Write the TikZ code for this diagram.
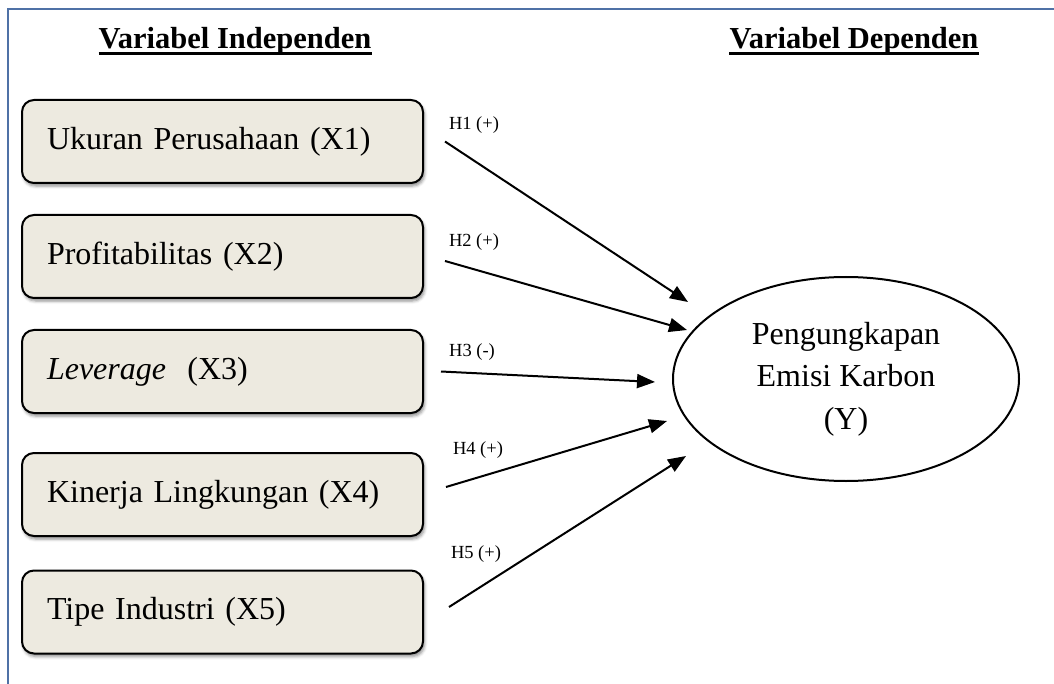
\documentclass[tikz,border=0pt]{standalone}
\usepackage{fontspec}
\setmainfont{Liberation Serif}
\usetikzlibrary{arrows.meta, shapes.geometric, shadows.blur}
\definecolor{boxfill}{RGB}{237,234,224}
\definecolor{framecol}{RGB}{79,113,166}
\tikzstyle{varbox}=[draw, fill=boxfill, rounded corners=12pt, line width=2pt, minimum width=401pt, minimum height=83pt, inner xsep=25pt, text width=351pt, align=left, font=\fontsize{32}{38}\selectfont, blur shadow={shadow xshift=1.5pt, shadow yshift=-3pt, shadow blur radius=3pt, shadow opacity=45}]
\tikzstyle{title}=[inner sep=0pt, font=\fontsize{30.5}{36}\selectfont\bfseries]
\tikzstyle{hyp}=[line width=2pt, -{Triangle[length=18pt, width=14pt]}]
\tikzstyle{hyplabel}=[inner sep=0pt, font=\fontsize{18.5}{22}\selectfont]
\newcommand{\varbox}{\node[varbox]}

\begin{document}
\begin{tikzpicture}[x=1pt, y=-1pt]
\useasboundingbox (0,0) rectangle (1054,684);
\draw[framecol, line width=1.5pt] (8,684) -- (8,9) -- (1054,9);
% judul kolom
\node[title, anchor=base] (tind) at (235,49) {Variabel Independen};
\node[title, anchor=base] (tdep) at (854,49) {Variabel Dependen};
\draw[line width=2.4pt] ([yshift=-4.5pt]tind.base west) -- ([yshift=-4.5pt]tind.base east);
\draw[line width=2.4pt] ([yshift=-4.5pt]tdep.base west) -- ([yshift=-4.5pt]tdep.base east);
% variabel independen
\varbox (x1) at (222.5,141.5) {Ukuran Perusahaan (X1)};
\varbox (x2) at (222.5,256.5) {Profitabilitas (X2)};
\varbox (x3) at (222.5,371.5) {\textit{Leverage}\ \ (X3)};
\varbox (x4) at (222.5,494.5) {Kinerja Lingkungan (X4)};
\varbox (x5) at (222.5,612) {Tipe Industri (X5)};
% variabel dependen
\node[ellipse, draw, line width=2pt, minimum width=346pt, minimum height=204pt, align=center, font=\fontsize{32}{42.5}\selectfont] (y) at (846,379) {Pengungkapan\\Emisi Karbon\\(Y)};
\coordinate (t1) at (688,302);
\coordinate (t2) at (687,330);
\coordinate (t3) at (655,382);
\coordinate (t4) at (667,421);
\coordinate (t5) at (686,456);
% hipotesis
\draw[hyp] ([xshift=21pt]x1.east) -- (t1);
\draw[hyp] ([xshift=21pt, yshift=-4.5pt]x2.east) -- (t2);
\draw[hyp] ([xshift=17pt]x3.east) -- (t3);
\draw[hyp] ([xshift=22pt, yshift=7.5pt]x4.east) -- (t4);
\draw[hyp] ([xshift=25pt, yshift=5pt]x5.east) -- (t5);
\node[hyplabel] (h1) at (474,125) {H1 (+)};
\node[hyplabel] (h2) at (474,242) {H2 (+)};
\node[hyplabel] (h3) at (472,352) {H3 (-)};
\node[hyplabel] (h4) at (478,450) {H4 (+)};
\node[hyplabel] (h5) at (476,554) {H5 (+)};
\end{tikzpicture}
\end{document}
